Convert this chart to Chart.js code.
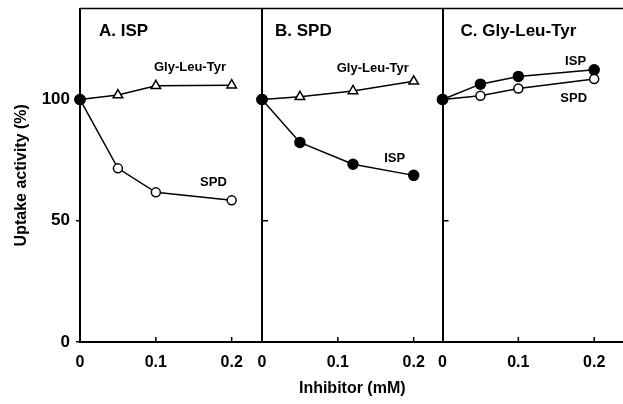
<!DOCTYPE html>
<html>
<head>
<meta charset="utf-8">
<script src="https://cdn.jsdelivr.net/npm/chart.js@4.4.1/dist/chart.umd.min.js"></script>
<style>
  body { margin: 0; background: #fff; }
  #wrap { position: relative; width: 623px; height: 404px; }
  #wrap canvas { position: absolute; left: 0; top: 0; }
</style>
</head>
<body>
<div id="wrap">
  <canvas id="panelA" width="623" height="404"></canvas>
  <canvas id="panelB" width="623" height="404"></canvas>
  <canvas id="panelC" width="623" height="404"></canvas>
</div>
<script>
// values (% of control uptake)
const doseA = [0, 0.05, 0.1, 0.2];
const aGlyLeuTyr = [100, 101.8, 105.6, 105.9];
const aSpd = [100, 71.6, 61.7, 58.4];

const doseB = [0, 0.05, 0.12, 0.2];
const bGlyLeuTyr = [100, 101.1, 103.5, 107.5];
const bIsp = [100, 82.3, 73.3, 68.7];

const doseC = [0, 0.05, 0.1, 0.2];
const cIsp = [100, 106.3, 109.5, 112.2];
const cSpd = [100, 101.5, 104.5, 108.4];

const xTicks = [0, 0.1, 0.2];
const yTicks = [0, 50, 100];

const FONT = '"Liberation Sans", Arial, Helvetica, sans-serif';
Chart.defaults.font.family = FONT;
Chart.defaults.color = '#000';

// top frame line, inward tick marks, panel titles and curve labels
const panelDecor = {
    id: 'panelDecor',
    afterDraw(chart, args, opts) {
        const { ctx, chartArea: a, scales: { x, y } } = chart;
        ctx.save();
        ctx.strokeStyle = '#000';
        ctx.lineWidth = 1.5;
        ctx.beginPath();
        ctx.moveTo(a.left, a.top);
        ctx.lineTo(a.right, a.top);
        xTicks.forEach(v => {
            if (v === 0) return;
            const px = x.getPixelForValue(v);
            ctx.moveTo(px, a.bottom);
            ctx.lineTo(px, a.bottom - 5);
        });
        if (opts.inwardY) {
            [50, 100].forEach(v => {
                const py = y.getPixelForValue(v);
                ctx.moveTo(a.left, py);
                ctx.lineTo(a.left + 6, py);
            });
        }
        ctx.stroke();

        ctx.fillStyle = '#000';
        ctx.textBaseline = 'middle';
        ctx.textAlign = 'left';
        ctx.font = 'bold 17px ' + FONT;
        ctx.fillText(opts.title, a.left + opts.titleDx, a.top + 22.5);

        ctx.textAlign = 'center';
        ctx.font = 'bold 13px ' + FONT;
        opts.labels.forEach(l => {
            ctx.fillText(l.text, x.getPixelForValue(l.x), y.getPixelForValue(l.y));
        });
        ctx.restore();
    }
};

function series(doses, values, style, filled) {
    return {
        data: doses.map((d, i) => ({ x: d, y: values[i] })),
        borderColor: '#000',
        borderWidth: 1.5,
        clip: false,
        pointStyle: c => (c.dataIndex === 0 ? 'circle' : style),
        pointRadius: c => (c.dataIndex === 0 || filled ? 5 : (style === 'triangle' ? 5.5 : 4.5)),
        pointBackgroundColor: c => (c.dataIndex === 0 || filled ? '#000' : '#fff'),
        pointBorderColor: '#000',
        pointBorderWidth: 1.5
    };
}

// keep the panel frames where they are in the figure: no label overflow padding
function noPad(s) {
    s.paddingTop = 0;
    s.paddingBottom = 0;
    s.paddingLeft = 0;
    s.paddingRight = 0;
}

function makePanel(id, datasets, p) {
    const yAxis = {
        type: 'linear',
        min: 0,
        max: 137.5,
        afterBuildTicks: s => { s.ticks = yTicks.map(v => ({ value: v })); },
        afterFit: s => { s.width = p.first ? 80 : 0; noPad(s); },
        border: { display: true, color: '#000', width: 2 },
        grid: { display: p.first, drawOnChartArea: false, color: '#000', lineWidth: 1.5, tickLength: 4 },
        ticks: { display: p.first, color: '#000', padding: 6, font: { size: 17, weight: 'bold' } },
        title: {
            display: p.first,
            text: 'Uptake activity (%)',
            color: '#000',
            font: { size: 16, weight: 'bold' },
            padding: { top: 12, bottom: 0 }
        }
    };
    const xAxis = {
        type: 'linear',
        min: 0,
        max: p.xMax,
        afterBuildTicks: s => { s.ticks = xTicks.map(v => ({ value: v })); },
        afterFit: s => { s.height = 62; noPad(s); },
        border: { display: true, color: '#000', width: 2 },
        grid: { display: false, drawTicks: false },
        ticks: {
            color: '#000',
            padding: 11,
            font: { size: 16, weight: 'bold' },
            callback: v => (v === 0 ? '0' : v.toFixed(1))
        },
        title: {
            display: !!p.xTitle,
            text: p.xTitle || '',
            color: '#000',
            font: { size: 16, weight: 'bold' },
            padding: { top: 0, bottom: 6 }
        }
    };
    new Chart(document.getElementById(id), {
        type: 'line',
        data: { datasets },
        options: {
            responsive: false,
            animation: false,
            devicePixelRatio: 1,
            layout: { autoPadding: false, padding: { left: p.left, right: p.right, top: 8.5, bottom: 0 } },
            scales: { x: xAxis, y: yAxis },
            plugins: {
                legend: { display: false },
                tooltip: { enabled: false },
                panelDecor: { title: p.title, titleDx: p.titleDx, inwardY: !p.first, labels: p.labels }
            }
        },
        plugins: [panelDecor]
    });
}

makePanel('panelA', [
    series(doseA, aGlyLeuTyr, 'triangle', false),
    series(doseA, aSpd, 'circle', false)
], {
    first: true, left: 0, right: 361, xMax: 0.24,
    title: 'A. ISP', titleDx: 19,
    labels: [
        { text: 'Gly-Leu-Tyr', x: 0.145, y: 113.3 },
        { text: 'SPD', x: 0.176, y: 65.6 }
    ]
});

makePanel('panelB', [
    series(doseB, bGlyLeuTyr, 'triangle', false),
    series(doseB, bIsp, 'circle', true)
], {
    first: false, left: 262, right: 180.5, xMax: 0.238,
    title: 'B. SPD', titleDx: 13, xTitle: 'Inhibitor (mM)',
    labels: [
        { text: 'Gly-Leu-Tyr', x: 0.146, y: 112.9 },
        { text: 'ISP', x: 0.175, y: 75.8 }
    ]
});

makePanel('panelC', [
    series(doseC, cSpd, 'circle', false),
    series(doseC, cIsp, 'circle', true)
], {
    first: false, left: 442.5, right: 0, xMax: 0.238,
    title: 'C. Gly-Leu-Tyr', titleDx: 18,
    labels: [
        { text: 'ISP', x: 0.1755, y: 115.8 },
        { text: 'SPD', x: 0.173, y: 100.5 }
    ]
});
</script>
</body>
</html>
